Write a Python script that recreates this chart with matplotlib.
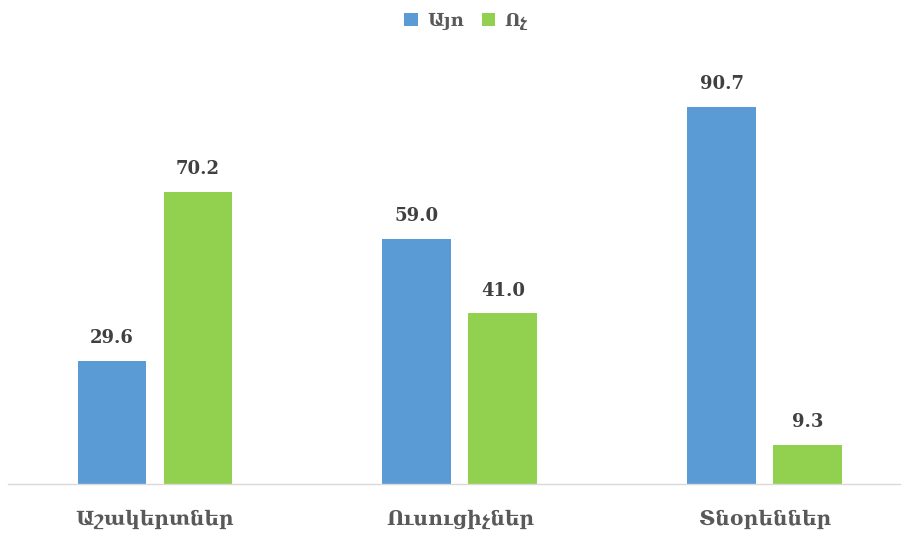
import matplotlib
matplotlib.use("Agg")
import matplotlib.pyplot as plt
import numpy as np

categories = ["Աշակերտներ", "Ուսուցիչներ", "Տնօրեններ"]
series_names = ["Այո", "Ոչ"]
yes_vals = [29.6, 59.0, 90.7]
no_vals = [70.2, 41.0, 9.3]

colors = ["#5B9BD5", "#92D050"]
txt_color = "#404040"
fam = ["DejaVu Serif", "DejaVu Sans"]

fig = plt.figure(figsize=(9.04, 5.34), dpi=100)
W, H = 904, 534
ax = fig.add_axes([8 / W, (534 - 484) / H, (900 - 8) / W, (484 - 68) / H])

x = np.arange(len(categories))
w = 0.226
off = 0.141
b1 = ax.bar(x - off, yes_vals, w, color=colors[0], label=series_names[0])
b2 = ax.bar(x + off, no_vals, w, color=colors[1], label=series_names[1])

for bars, vals in ((b1, yes_vals), (b2, no_vals)):
    for rect, v in zip(bars, vals):
        ax.annotate(f"{v:.1f}", (rect.get_x() + rect.get_width() / 2, v),
                    xytext=(0, 10), textcoords="offset points", ha="center", va="bottom",
                    fontsize=13, fontweight="bold", color=txt_color, family=fam)

ax.set_xlim(-0.482, 2.443)
ax.set_ylim(0, 100)
ax.set_xticks(x)
ax.set_xticklabels(categories, fontsize=14.5, fontweight="bold", color="#595959", family=fam)
ax.tick_params(axis="x", length=0, pad=18)
ax.set_yticks([])
for s in ("top", "right", "left"):
    ax.spines[s].set_visible(False)
ax.spines["bottom"].set_color("#D9D9D9")
ax.spines["bottom"].set_linewidth(1)

leg = fig.legend(handles=[b1, b2], loc="center", bbox_to_anchor=(466 / W, 1 - 21 / H), ncol=2,
                 frameon=False, handlelength=0.75, handleheight=0.75, columnspacing=1.0,
                 handletextpad=0.5, prop={"family": fam, "size": 13, "weight": "bold"})
for t in leg.get_texts():
    t.set_color("#595959")

fig.savefig("out.png", dpi=100)
